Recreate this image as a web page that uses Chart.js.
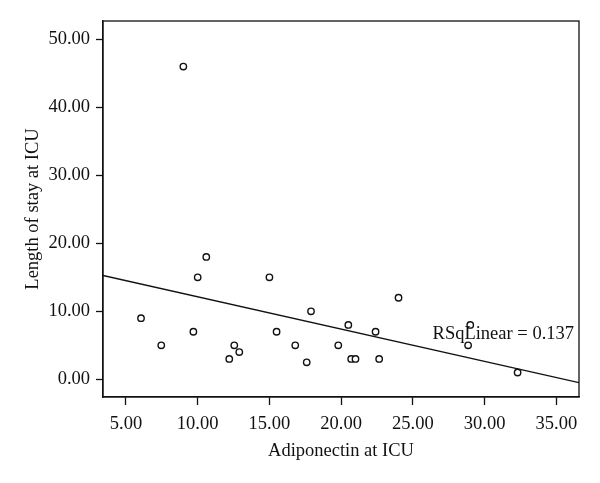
<!DOCTYPE html>
<html>
<head>
<meta charset="utf-8">
<script src="https://cdn.jsdelivr.net/npm/chart.js@4/dist/chart.umd.min.js"></script>
<style>
  html, body { margin: 0; padding: 0; background: #fff; }
  #wrap { width: 600px; height: 483px; }
</style>
</head>
<body>
<div id="wrap"><canvas id="scatterChart" width="600" height="483"></canvas></div>
<script>
// values
const adiponectin = [9.0, 6.05, 7.46, 9.7, 10.0, 10.6, 15.0, 17.9, 15.5, 12.55, 12.9, 12.2,
  16.8, 17.6, 19.8, 20.5, 20.7, 21.0, 22.4, 22.65, 24.0, 29.0, 28.85, 32.3];
const lengthOfStay = [46, 9, 5, 7, 15, 18, 15, 10, 7, 5, 4, 3,
  5, 2.5, 5, 8, 3, 3, 7, 3, 12, 8, 5, 1];

// fit line end points (x, y)
const fitX = [3.4, 36.58];
const fitY = [15.27, -0.49];

const xTicks = [5, 10, 15, 20, 25, 30, 35];
const yTicks = [0, 10, 20, 30, 40, 50];
const rsqLabel = "RSqLinear = 0.137";
const rsqLabelY = 6.6;

const ink = "#111";
const font = { family: "'Liberation Serif', 'DejaVu Serif', serif", size: 18.5 };

const framePlugin = {
  id: "frame",
  afterDatasetsDraw(chart) {
    const { ctx, chartArea, scales } = chart;
    ctx.save();
    ctx.strokeStyle = ink;
    ctx.lineWidth = 1.3;
    ctx.strokeRect(chartArea.left, chartArea.top, chartArea.right - chartArea.left, chartArea.bottom - chartArea.top);
    ctx.fillStyle = ink;
    ctx.font = `${font.size}px ${font.family}`;
    ctx.textAlign = "right";
    ctx.textBaseline = "middle";
    ctx.fillText(rsqLabel, chartArea.right - 5, scales.y.getPixelForValue(rsqLabelY));
    ctx.restore();
  }
};

const ctx = document.getElementById("scatterChart").getContext("2d");
new Chart(ctx, {
  type: "scatter",
  data: {
    datasets: [{
      data: adiponectin.map((x, i) => ({ x: x, y: lengthOfStay[i] })),
      pointStyle: "circle",
      pointRadius: 3.2,
      pointBorderWidth: 1.4,
      pointBorderColor: ink,
      pointBackgroundColor: "#fff",
    }, {
      data: fitX.map((x, i) => ({ x: x, y: fitY[i] })),
      showLine: true,
      borderColor: ink,
      borderWidth: 1.4,
      pointRadius: 0,
    }]
  },
  options: {
    responsive: false,
    animation: false,
    events: [],
    layout: { padding: { top: 21, right: 21, left: 0, bottom: 0 } },
    plugins: { legend: { display: false }, tooltip: { enabled: false } },
    scales: {
      x: {
        min: 3.4,
        max: 36.58,
        afterBuildTicks: (scale) => { scale.ticks = xTicks.map(v => ({ value: v })); },
        afterFit: (scale) => { scale.height = 86; },
        ticks: { color: ink, font: font, padding: 8, callback: (v) => v.toFixed(2), maxRotation: 0, autoSkip: false },
        grid: { display: true, drawOnChartArea: false, drawTicks: true, tickLength: 8, tickColor: ink, tickWidth: 1.3 },
        border: { display: true, color: ink, width: 1.3 },
        title: { display: true, text: "Adiponectin at ICU", color: ink, font: font, padding: { top: 0, bottom: 21 } },
      },
      y: {
        min: -2.6,
        max: 52.7,
        afterBuildTicks: (scale) => { scale.ticks = yTicks.map(v => ({ value: v })); },
        afterFit: (scale) => { scale.width = 103; },
        ticks: { color: ink, font: font, padding: 6, callback: (v) => v.toFixed(2), autoSkip: false },
        grid: { display: true, drawOnChartArea: false, drawTicks: true, tickLength: 7, tickColor: ink, tickWidth: 1.3 },
        border: { display: true, color: ink, width: 1.3 },
        title: { display: true, text: "Length of stay at ICU", color: ink, font: font, padding: { top: 22, bottom: 0 } },
      }
    }
  },
  plugins: [framePlugin]
});
</script>
</body>
</html>
